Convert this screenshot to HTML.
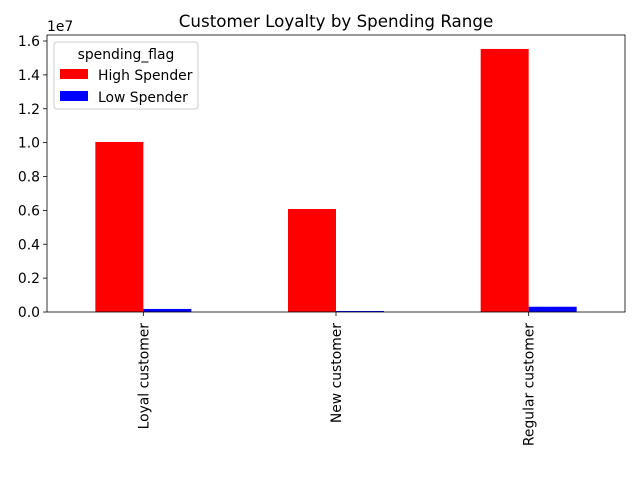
<!DOCTYPE html>
<html><head><meta charset="utf-8"><style>body{margin:0;background:#fff}svg text{font-family:"DejaVu Sans","Liberation Sans",sans-serif}</style></head>
<body>
<svg id="c" width="640" height="480" xmlns="http://www.w3.org/2000/svg"></svg>
<script>
const categories = ["Loyal customer", "New customer", "Regular customer"];
const highSpender = [10040000, 6080000, 15530000];
const lowSpender = [180000, 60000, 310000];
const yTicks = [0, 0.2, 0.4, 0.6, 0.8, 1.0, 1.2, 1.4, 1.6];
const yTickLabels = ["0.0","0.2","0.4","0.6","0.8","1.0","1.2","1.4","1.6"];

const L=47,R=625,T=35,B=312;
const FS=13.9;
const ns="http://www.w3.org/2000/svg";
const svg=document.getElementById('c');
function el(t,a,txt){const e=document.createElementNS(ns,t);for(const k in a)e.setAttribute(k,a[k]);if(txt!==undefined)e.textContent=txt;svg.appendChild(e);return e;}
const y=v=>B-(v/1e7)*(B-41)/1.6;
const x=i=>L+(i+0.5)*(R-L)/categories.length;
const bw=48;
categories.forEach((c,i)=>{
  const h=el('rect',{x:x(i)-bw,y:y(highSpender[i]),width:bw,height:B-y(highSpender[i]),fill:'#ff0000'});
  
  
  const l=el('rect',{x:x(i),y:y(lowSpender[i]),width:bw,height:B-y(lowSpender[i]),fill:'#0000ff'});
  
  
  el('line',{x1:x(i),x2:x(i),y1:B,y2:B+4,stroke:'#000','stroke-width':0.8});
  const t=el('text',{x:0,y:0,'font-size':FS,'text-anchor':'end',transform:`translate(${x(i)+5},${B+11}) rotate(-90)`},c);
  
  
});
yTicks.forEach((v,i)=>{
  const yy=y(v*1e7);
  el('line',{x1:L-4,x2:L,y1:yy,y2:yy,stroke:'#000','stroke-width':0.8});
  const t=el('text',{x:L-7,y:yy+5,'font-size':FS,'text-anchor':'end'},yTickLabels[i]);
  
  
});
el('rect',{x:L,y:T,width:R-L,height:B-T,fill:'none',stroke:'#000','stroke-width':0.8});
const off=el('text',{x:47,y:31,'font-size':FS},'1e7');

const title=el('text',{x:336,y:27,'font-size':16.7,'text-anchor':'middle'},'Customer Loyalty by Spending Range');

const lg=el('rect',{x:54,y:42,width:144,height:67,rx:3,fill:'#fff',stroke:'#ccc'});

el('text',{x:126,y:59,'font-size':FS,'text-anchor':'middle'},'spending_flag');
el('rect',{x:60,y:69,width:28,height:10,fill:'#ff0000'});
const e1=el('text',{x:98,y:80,'font-size':FS},'High Spender');

el('rect',{x:60,y:91,width:28,height:10,fill:'#0000ff'});
const e2=el('text',{x:98,y:102,'font-size':FS},'Low Spender');

</script>
</body></html>
